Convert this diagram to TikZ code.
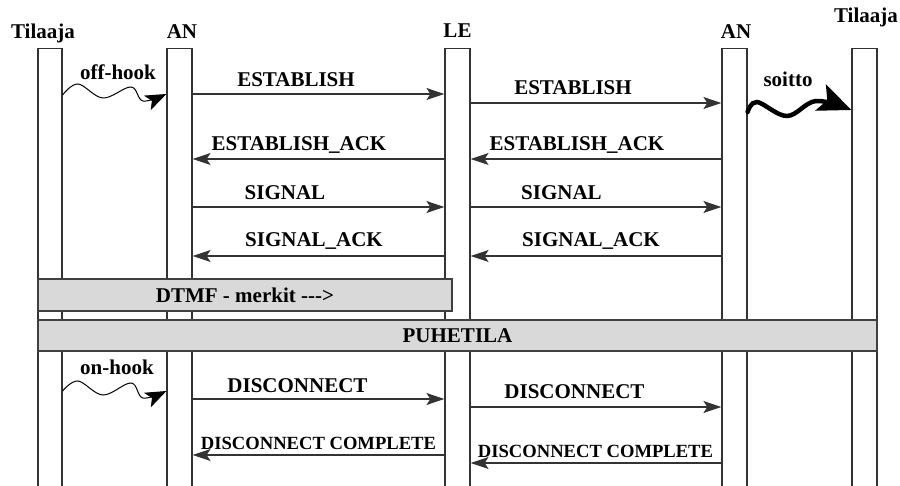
\documentclass[tikz,border=0pt]{standalone}
\usepackage{fontspec}
\setmainfont{Liberation Serif}
\usetikzlibrary{arrows.meta}
\begin{document}
\begin{tikzpicture}[x=1pt,y=-1pt,
  ln/.style={draw=black!80, line width=1.2pt},
  bar/.style={ln, fill=white, minimum width=25pt, minimum height=470pt, inner sep=0pt, anchor=north},
  lbl/.style={font=\bfseries\fontsize{21}{24}\selectfont, inner sep=0pt, anchor=base},
  slbl/.style={font=\bfseries\fontsize{18.6}{22}\selectfont, inner sep=0pt, anchor=base},
  msg/.style={ln, -{Stealth[length=18pt,width=12pt,inset=4pt]}},
  wave/.style={draw=black, line width=1pt, -{Stealth[length=21pt,width=16pt,inset=5pt]}},
  band/.style={draw=black!75, line width=1.2pt, fill=black!15, inner sep=0pt, font=\bfseries\fontsize{21}{24}\selectfont}
]
\useasboundingbox (0,0) rectangle (900,486);
\clip (0,0) rectangle (900,486);
% lifelines
\node[bar, minimum width=24pt] (t1) at (50,48) {};
\node[bar] (an1) at (179.5,48) {};
\node[bar] (le) at (457.5,48) {};
\node[bar] (an2) at (734.5,48) {};
\node[bar] (t2) at (864.5,48) {};
% headers
\node[lbl] (h1) at (43,39) {Tilaaja};
\node[lbl] (h2) at (182,39) {AN};
\node[lbl] (h3) at (457.5,38) {LE};
\node[lbl] (h4) at (736,39) {AN};
\node[lbl] (h5) at (866,23) {Tilaaja};
% bands
\node[band, minimum width=414pt, minimum height=32pt] (dtmf) at (245,295) {DTMF - merkit -\kern0pt-\kern0pt->};
\node[band, minimum width=839pt, minimum height=31pt] (puhe) at (457.5,335.5) {PUHETILA};
% messages
\draw[msg] (an1.east |- 0,94) -- (le.west |- 0,94);
\draw[msg] (le.east |- 0,103) -- (an2.west |- 0,103);
\draw[msg] (le.west |- 0,159) -- (an1.east |- 0,159);
\draw[msg] (an2.west |- 0,159) -- (le.east |- 0,159);
\draw[msg] (an1.east |- 0,207) -- (le.west |- 0,207);
\draw[msg] (le.east |- 0,207) -- (an2.west |- 0,207);
\draw[msg] (le.west |- 0,256) -- (an1.east |- 0,256);
\draw[msg] (an2.west |- 0,256) -- (le.east |- 0,256);
\draw[msg] (an1.east |- 0,399) -- (le.west |- 0,399);
\draw[msg] (le.east |- 0,407) -- (an2.west |- 0,407);
\draw[msg] (le.west |- 0,455) -- (an1.east |- 0,455);
\draw[msg] (an2.west |- 0,463) -- (le.east |- 0,463);
% wavy arrows
\draw[wave] plot[smooth, tension=0.6] coordinates {(t1.east |- 0,95) (78,84) (103,98) (131,87) (143,101) (an1.west |- 0,94)};
\draw[wave] plot[smooth, tension=0.6] coordinates {(t1.east |- 0,391) (78,381) (103,395) (131,383) (143,398) (an1.west |- 0,391)};
\draw[draw=black, line width=4.5pt, line cap=round, -{Stealth[length=33pt,width=28pt,inset=7pt]}] plot[smooth, tension=0.6] coordinates {(an2.east |- 0,112) (757,102) (787,116) (816,101) (t2.west |- 0,110)};
% labels
\node[lbl] (m1) at (296,87) {ESTABLISH};
\node[lbl] (m2) at (573,95) {ESTABLISH};
\node[lbl] (m3) at (299,151) {ESTABLISH\_ACK};
\node[lbl] (m4) at (577,151) {ESTABLISH\_ACK};
\node[lbl] (m5) at (285,200) {SIGNAL};
\node[lbl] (m6) at (561.5,200) {SIGNAL};
\node[lbl] (m7) at (314,247) {SIGNAL\_ACK};
\node[lbl] (m8) at (591,247) {SIGNAL\_ACK};
\node[lbl] (m9) at (297.5,392) {DISCONNECT};
\node[lbl] (m10) at (574.5,399) {DISCONNECT};
\node[slbl] (m11) at (318.5,449) {DISCONNECT COMPLETE};
\node[slbl] (m12) at (595.5,457) {DISCONNECT COMPLETE};
\node[lbl] (w1) at (118,80) {off-hook};
\node[lbl] (w2) at (117,375) {on-hook};
\node[lbl] (w3) at (788,87) {soitto};
\end{tikzpicture}
\end{document}
